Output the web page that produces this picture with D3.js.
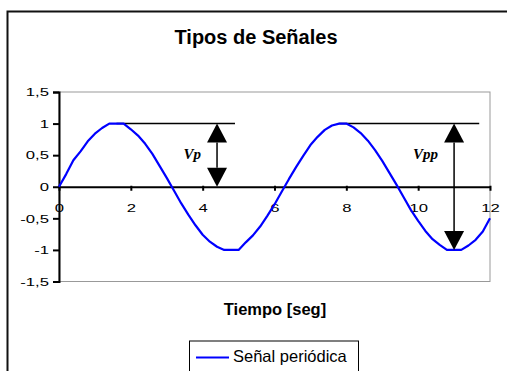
<!DOCTYPE html>
<html><head><meta charset="utf-8">
<script src="https://cdn.jsdelivr.net/npm/d3@7"></script>
<style>body{margin:0;background:#fff}svg{display:block}</style>
</head><body>
<svg id="c" width="507" height="371"></svg>
<script>
const title = "Tipos de Señales";
const xTitle = "Tiempo [seg]";
const seriesName = "Señal periódica";
const xTicks = [0, 2, 4, 6, 8, 10, 12];
const yTicks = [-1.5, -1, -0.5, 0, 0.5, 1, 1.5];
const tiempo = [0,0.2,0.4,0.6,0.8,1,1.2,1.4,1.6,1.8,2,2.2,2.4,2.6,2.8,3,3.2,3.4,3.6,3.8,4,4.2,4.4,4.6,4.8,5,5.2,5.4,5.6,5.8,6,6.2,6.4,6.6,6.8,7,7.2,7.4,7.6,7.8,8,8.2,8.4,8.6,8.8,9,9.2,9.4,9.6,9.8,10,10.2,10.4,10.6,10.8,11,11.2,11.4,11.6,11.8,12];
const senal = [0,0.2,0.42,0.56,0.72,0.84,0.93,1,1,1,0.91,0.81,0.68,0.52,0.33,0.14,-0.06,-0.26,-0.44,-0.61,-0.76,-0.87,-0.95,-1,-1,-1,-0.88,-0.77,-0.63,-0.46,-0.28,-0.08,0.12,0.31,0.49,0.66,0.79,0.9,0.97,1,1,0.94,0.85,0.73,0.58,0.41,0.22,0.03,-0.17,-0.37,-0.54,-0.7,-0.83,-0.92,-1,-1,-1,-0.93,-0.84,-0.71,-0.5];
// reference lines at peak level: [x start, x end, y]
const peakLines = [[1.6, 4.9, 1], [7.8, 11.7, 1]];
// arrows: [x, y from, y to, label]
const arrows = [[4.4, 1, 0, "Vp"], [11.0, 1, -1, "Vpp"]];

const svg = d3.select("#c");
const x = d3.scaleLinear().domain([0, 12]).range([59, 490]);
const y = d3.scaleLinear().domain([-1.5, 1.5]).range([281.5, 92]);
const SANS = "Liberation Sans, Arial, sans-serif";

// outer chart border
svg.append("rect").attr("x", 7.5).attr("y", 11.5).attr("width", 510).attr("height", 380)
  .attr("fill", "none").attr("stroke", "#111").attr("stroke-width", 2);

// plot area border (gray)
svg.append("rect").attr("x", x(0)).attr("y", y(1.5)).attr("width", x(12) - x(0)).attr("height", y(-1.5) - y(1.5))
  .attr("fill", "none").attr("stroke", "#999").attr("stroke-width", 1);

svg.append("text").attr("x", 256).attr("y", 44).attr("text-anchor", "middle")
  .attr("font-family", SANS).attr("font-weight", "bold").attr("font-size", 20)
  .text(title);

// y axis
const yAxis = d3.axisLeft(y).tickValues(yTicks).tickSize(6).tickPadding(3)
  .tickFormat(d => String(d).replace(".", ","));
const gy = svg.append("g").attr("transform", `translate(${x(0)},0)`).call(yAxis);
gy.select(".domain").attr("stroke", "#000").attr("stroke-width", 2);
gy.selectAll(".tick line").attr("stroke", "#000").attr("stroke-width", 2);
gy.selectAll("text").attr("font-family", SANS).attr("font-size", 11.5).attr("fill", "#000")
  .attr("x", 0).attr("transform", "translate(-10,0) scale(1.45,1)");

// x axis at y=0
const xAxis = d3.axisBottom(x).tickValues(xTicks).tickSize(4).tickPadding(8).tickSizeOuter(0);
const gx = svg.append("g").attr("transform", `translate(0,${y(0)})`).call(xAxis);
gx.select(".domain").attr("stroke", "#000").attr("stroke-width", 2);
gx.selectAll(".tick line").attr("stroke", "#000").attr("stroke-width", 2).attr("y1", -1);
gx.selectAll("text").attr("font-family", SANS).attr("font-size", 11.5).attr("fill", "#000")
  .attr("y", 0).attr("transform", "translate(0,17) scale(1.45,1)");

// peak lines
svg.selectAll(".pk").data(peakLines).enter().append("line")
  .attr("x1", d => x(d[0])).attr("x2", d => x(d[1])).attr("y1", d => y(d[2])).attr("y2", d => y(d[2]))
  .attr("stroke", "#000").attr("stroke-width", 1.5);

// series
const line = d3.line().x((d, i) => x(tiempo[i])).y(d => y(d));
svg.append("path").datum(senal).attr("d", line).attr("fill", "none")
  .attr("stroke", "#0000ff").attr("stroke-width", 2.2).attr("stroke-linejoin", "round");

// arrows
const hw = 10, hh = 19;
arrows.forEach(a => {
  const ax = x(a[0]), y1 = y(a[1]), y2 = y(a[2]);
  svg.append("line").attr("x1", ax).attr("x2", ax).attr("y1", y1 + hh).attr("y2", y2 - hh)
    .attr("stroke", "#000").attr("stroke-width", 1.5);
  svg.append("path").attr("d", `M${ax},${y1}L${ax - hw},${y1 + hh}L${ax + hw},${y1 + hh}Z`).attr("fill", "#000");
  svg.append("path").attr("d", `M${ax},${y2}L${ax - hw},${y2 - hh}L${ax + hw},${y2 - hh}Z`).attr("fill", "#000");
  svg.append("text").attr("x", ax - 16).attr("y", y(0.5) + 4)
    .attr("text-anchor", "end").attr("font-family", "Liberation Serif, Times New Roman, serif")
    .attr("font-style", "italic").attr("font-weight", "bold").attr("font-size", 15).text(a[3]);
});

svg.append("text").attr("x", 275).attr("y", 315).attr("text-anchor", "middle")
  .attr("font-family", SANS).attr("font-weight", "bold").attr("font-size", 16.5)
  .text(xTitle);

// legend
const lg = svg.append("g");
lg.append("rect").attr("x", 189.5).attr("y", 341).attr("width", 169).attr("height", 40)
  .attr("fill", "#fff").attr("stroke", "#000").attr("stroke-width", 1);
lg.append("line").attr("x1", 196).attr("x2", 229).attr("y1", 357.5).attr("y2", 357.5)
  .attr("stroke", "#0000ff").attr("stroke-width", 2.2);
lg.append("text").attr("x", 233).attr("y", 362).attr("font-family", SANS)
  .attr("font-size", 16.5).text(seriesName);
</script>
</body></html>
